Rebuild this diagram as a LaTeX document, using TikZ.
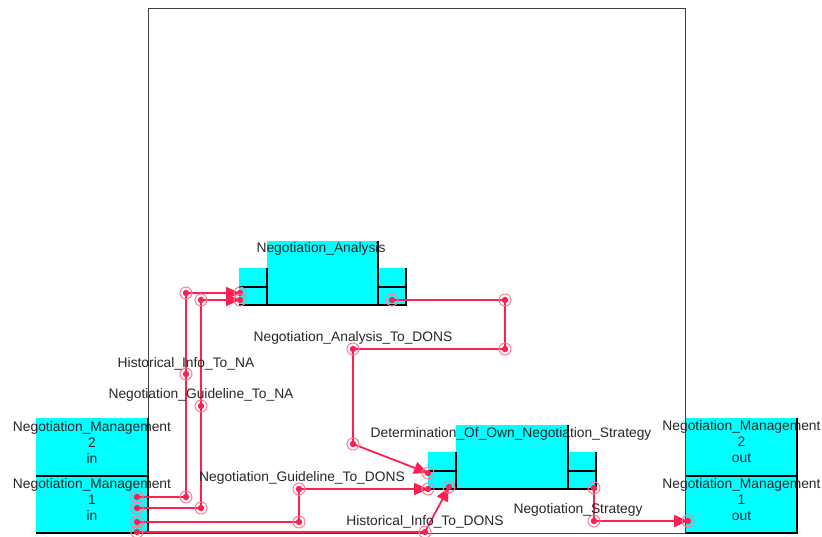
\documentclass[tikz,border=0pt]{standalone}
\usepackage{fontspec}
\setmainfont{Liberation Sans}
\usetikzlibrary{arrows.meta,positioning}
\definecolor{flowred}{RGB}{255,30,80}
\definecolor{ringred}{RGB}{255,125,150}
\definecolor{boxcyan}{RGB}{0,255,255}

\begin{document}
\begin{tikzpicture}[
      x=1pt, y=-1pt,
      font=\fontsize{13.8}{16}\selectfont,
      cbox/.style={fill=boxcyan, anchor=north west, inner sep=0pt,
                   outer sep=0pt},
      edgeln/.style={black, line width=1.2pt},
      lbl/.style={inner sep=1pt, text=black!85},
      flow/.style={flowred, line width=1.8pt},
      arr/.style={flow, -{Triangle[length=14pt,width=12pt]}},
      jnt/.style={circle, draw=ringred, line width=1pt, minimum size=12pt,
                  inner sep=0pt,
                  path picture={\fill[flowred] (path picture bounding box.center)
                    circle (3.2pt);}}
    ]
    \useasboundingbox (0,0) rectangle (822,536);

    % outer frame of the activity
    \node[draw=black!75, line width=1.3pt, anchor=north west, inner sep=0pt,
          minimum width=537pt, minimum height=525pt] (frame) at (148,8) {};

    % interface boxes
    \node[cbox, minimum width=112pt, minimum height=58pt] (in2) at (36,418) {};
    \node[cbox, minimum width=112pt, minimum height=57pt] (in1) at (36,476) {};
    \node[cbox, minimum width=111pt, minimum height=58pt] (out2) at (686,418) {};
    \node[cbox, minimum width=111pt, minimum height=57pt] (out1) at (686,476) {};

    % Negotiation_Analysis block
    \node[cbox, minimum width=111pt, minimum height=64pt] (na) at (267,241) {};
    \node[cbox, minimum width=28pt, minimum height=19pt] (naL1) at (239,268) {};
    \node[cbox, minimum width=28pt, minimum height=18pt] (naL2) at (239,287) {};
    \node[cbox, minimum width=28pt, minimum height=19pt] (naR1) at (378,268) {};
    \node[cbox, minimum width=28pt, minimum height=18pt] (naR2) at (378,287) {};

    % Determination_Of_Own_Negotiation_Strategy block
    \node[cbox, minimum width=112pt, minimum height=64pt] (dons) at (456,425) {};
    \node[cbox, minimum width=28pt, minimum height=19pt] (dL1) at (428,452) {};
    \node[cbox, minimum width=28pt, minimum height=18pt] (dL2) at (428,471) {};
    \node[cbox, minimum width=28pt, minimum height=19pt] (dR1) at (568,452) {};
    \node[cbox, minimum width=28pt, minimum height=18pt] (dR2) at (568,471) {};

    \foreach \n in {in2,in1,out2,out1,na,naL1,naL2,naR1,naR2,dons,dL1,dL2,dR1,dR2}
      \draw[edgeln] (\n.north east) -- (\n.south east) -- (\n.south west);

    % box texts
    \node[lbl, align=center] (tin2) at ([yshift=5pt]in2.center)
      {Negotiation\_Management\\2\\in};
    \node[lbl, align=center] (tin1) at ([yshift=5pt]in1.center)
      {Negotiation\_Management\\1\\in};
    \node[lbl, align=center] (tout2) at ([yshift=5pt]out2.center)
      {Negotiation\_Management\\2\\out};
    \node[lbl, align=center] (tout1) at ([yshift=5pt]out1.center)
      {Negotiation\_Management\\1\\out};
    \node[lbl] (tna) at (321,249) {Negotiation\_Analysis};
    \node[lbl] (tdons) at (511,434) {Determination\_Of\_Own\_Negotiation\_Strategy};

    % ports and bend points
    \coordinate (h1) at (137,497);
    \coordinate (g1) at (137,508);
    \coordinate (g2) at (137,522);
    \coordinate (h2) at (137,532);
    \coordinate (a1) at (186,497);
    \coordinate (a2) at (186,374);
    \coordinate (a3) at (186,293);
    \coordinate (naIn1) at (240,293);
    \coordinate (b1) at (201,508);
    \coordinate (b2) at (201,406);
    \coordinate (b3) at (201,300);
    \coordinate (naIn2) at (240,300);
    \coordinate (c1) at (299,522);
    \coordinate (c2) at (299,489);
    \coordinate (dIn2) at (428,489);
    \coordinate (d1) at (425,532);
    \coordinate (dIn3) at (449,487);
    \coordinate (naOut) at (392,300);
    \coordinate (e1) at (505,300);
    \coordinate (e2) at (505,349);
    \coordinate (e3) at (353,349);
    \coordinate (e4) at (353,444);
    \coordinate (dIn1) at (428,473);
    \coordinate (dOut) at (594,488);
    \coordinate (f1) at (594,521);
    \coordinate (outP) at (688,521);

    % flows
    \draw[arr] (h1) -- (a1) -- (a2) -- (a3) -- (naIn1);
    \draw[arr] (g1) -- (b1) -- (b2) -- (b3) -- (naIn2);
    \draw[arr] (g2) -- (c1) -- (c2) -- (dIn2);
    \draw[arr] (h2) -- (d1) -- (dIn3);
    \draw[arr] (naOut) -- (e1) -- (e2) -- (e3) -- (e4) -- (dIn1);
    \draw[arr] (dOut) -- (f1) -- (outP);

    \foreach \p in {h1,g1,g2,h2,a1,a2,a3,naIn1,b1,b2,b3,naIn2,c1,c2,dIn2,
                    d1,dIn3,naOut,e1,e2,e3,e4,dIn1,dOut,f1,outP}
      \node[jnt] (m-\p) at (\p) {};

    % flow labels
    \node[lbl, above=3pt of a2] (lhna) {Historical\_Info\_To\_NA};
    \node[lbl, above=3pt of b2] (lgna) {Negotiation\_Guideline\_To\_NA};
    \node[lbl, above=3pt of e3] (lnad) {Negotiation\_Analysis\_To\_DONS};
    \node[lbl, above=3pt of c2, xshift=3pt] (lgd) {Negotiation\_Guideline\_To\_DONS};
    \node[lbl, above=3pt of d1] (lhd) {Historical\_Info\_To\_DONS};
    \node[lbl, above=3pt of f1, xshift=-16pt] (lns) {Negotiation\_Strategy};
  \end{tikzpicture}
\end{document}
